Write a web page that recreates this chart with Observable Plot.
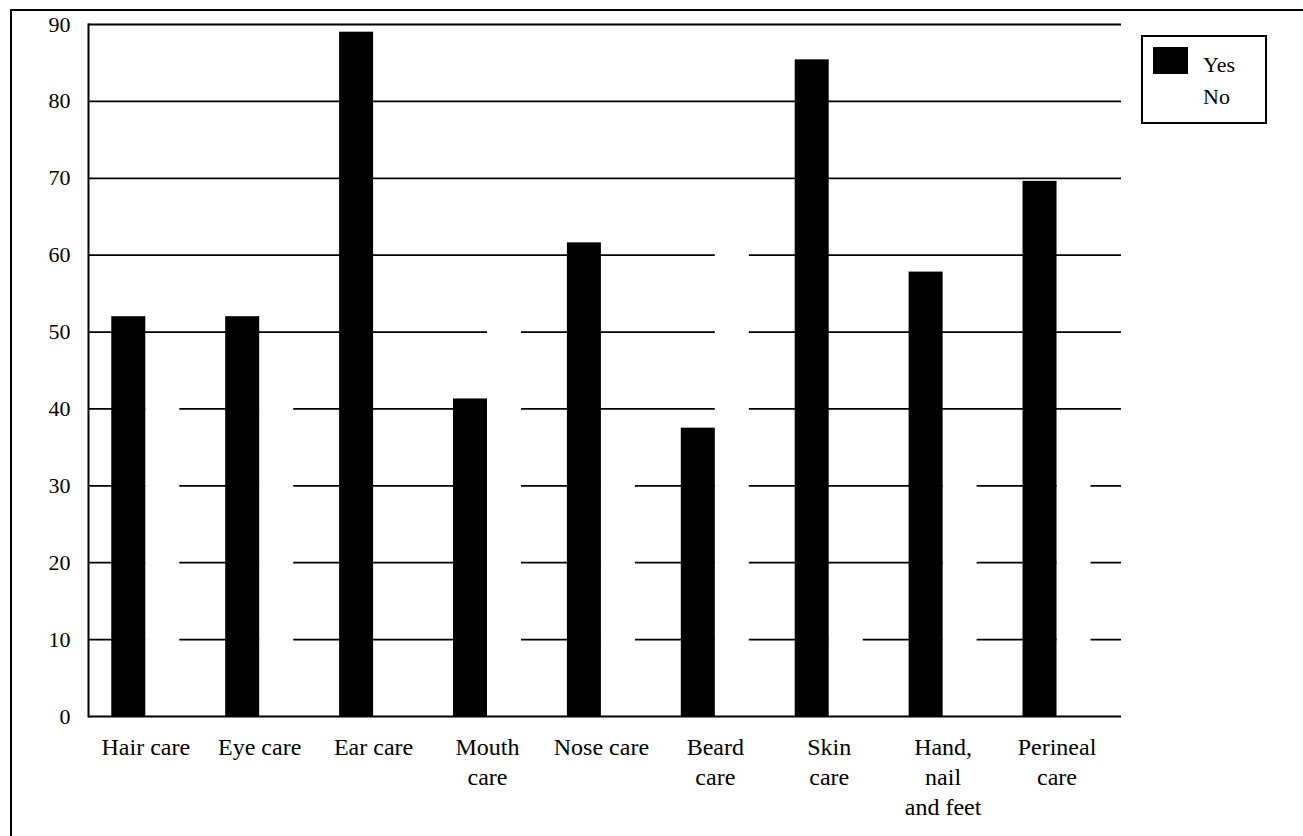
<!DOCTYPE html>
<html>
<head>
<meta charset="utf-8">
<script src="https://cdn.jsdelivr.net/npm/d3@7"></script>
<script src="https://cdn.jsdelivr.net/npm/@observablehq/plot@0.6"></script>
<style>
  html, body { margin: 0; padding: 0; background: #fff; }
  #wrap { position: relative; width: 1303px; height: 836px; overflow: hidden; background: #fff;
          font-family: "Liberation Serif", "DejaVu Serif", serif; }
  #border { position: absolute; left: 10px; top: 9px; width: 1300px; height: 840px;
            border-top: 2px solid #000; border-left: 2px solid #000; }
  #chart { position: absolute; left: 0; top: 0; }
  #legend { position: absolute; left: 1141px; top: 35px; width: 122px; height: 85px;
            border: 2px solid #000; background: #fff; }
  .sw { position: absolute; left: 10px; top: 10px; width: 35px; height: 27px; background: #000; }
  .lt { position: absolute; left: 60px; font-size: 22px; line-height: 22px; color: #000; }
</style>
</head>
<body>
<div id="wrap">
  <div id="border"></div>
  <div id="chart"></div>
  <div id="legend">
    <div class="sw"></div>
    <div class="lt" id="lyes" style="top:17px"></div>
    <div class="lt" id="lno" style="top:49px"></div>
  </div>
</div>
<script>
// ---- data ----
const categories = ["Hair care", "Eye care", "Ear care", "Mouth care", "Nose care", "Beard care", "Skin care", "Hand, nail and feet", "Perineal care"];
const tickLabels = ["Hair care", "Eye care", "Ear care", "Mouth\ncare", "Nose care", "Beard\ncare", "Skin\ncare", "Hand,\nnail\nand feet", "Perineal\ncare"];
const yesValues = [52, 52, 89, 41.3, 61.6, 37.5, 85.4, 57.8, 69.6];
const noValues  = [48, 48, 9, 58.7, 38.4, 62.5, 14.6, 39, 30.4];
const seriesNames = ["Yes", "No"];
const yTicks = [0, 10, 20, 30, 40, 50, 60, 70, 80, 90];

const rows = categories.map((c, i) => ({category: c, yes: yesValues[i], no: noValues[i]}));
const labelOf = new Map(categories.map((c, i) => [c, tickLabels[i]]));
const gridTicks = yTicks.filter(t => t > 0 && t < 90);

document.getElementById("lyes").textContent = seriesNames[0];
document.getElementById("lno").textContent = seriesNames[1];

const font = '"Liberation Serif", "DejaVu Serif", serif';

const chart = Plot.plot({
  width: 1303,
  height: 836,
  marginLeft: 88,
  marginRight: 182,
  marginTop: 24,
  marginBottom: 120,
  style: {fontFamily: font, fontSize: "22px", color: "#000", background: "transparent", overflow: "visible"},
  x: {domain: categories, paddingInner: 0.403, paddingOuter: 0.236, align: 0.433, round: false, label: null},
  y: {domain: [0, 90], label: null},
  marks: [
    Plot.ruleY(gridTicks, {stroke: "#000", strokeWidth: 1.7}),
    Plot.barY(rows, {x: "category", y: "no", fill: "#fff", insetLeft: 34}),
    Plot.barY(rows, {x: "category", y: "yes", fill: "#000", insetRight: 34}),
    Plot.ruleY([0, 90], {stroke: "#000", strokeWidth: 2}),
    Plot.frame({anchor: "left", stroke: "#000", strokeWidth: 2}),
    Plot.axisY({ticks: yTicks, tickSize: 0, tickPadding: 18, fontSize: 22, label: null, tickFormat: d => String(d)}),
    Plot.axisX({tickSize: 0, tickPadding: 17, fontSize: 24, lineHeight: 1.25, label: null, tickFormat: d => labelOf.get(d)})
  ]
});
document.getElementById("chart").appendChild(chart);
</script>
</body>
</html>
